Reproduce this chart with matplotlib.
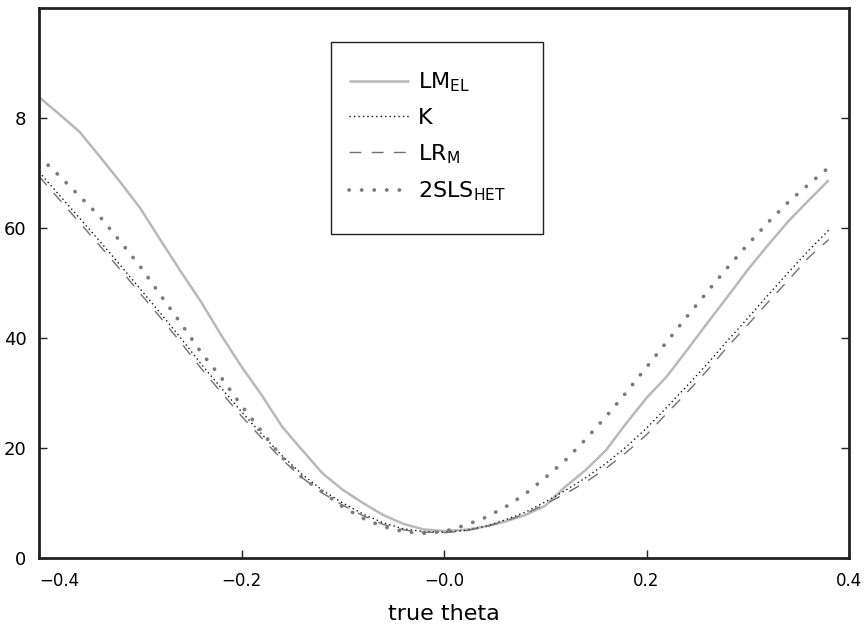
import matplotlib
matplotlib.use("Agg")
import matplotlib.pyplot as plt
from matplotlib.patches import Rectangle

theta = [-0.40, -0.38, -0.36, -0.34, -0.32, -0.30, -0.28, -0.26, -0.24, -0.22,
         -0.20, -0.18, -0.16, -0.14, -0.12, -0.10, -0.08, -0.06, -0.04, -0.02,
         0.00, 0.02, 0.04, 0.06, 0.08, 0.10, 0.12, 0.14, 0.16, 0.18,
         0.20, 0.22, 0.24, 0.26, 0.28, 0.30, 0.32, 0.34, 0.36, 0.38]

lm_el = [83.8, 80.7, 77.5, 73.0, 68.4, 63.6, 57.8, 52.1, 46.6, 40.5,
         34.8, 29.6, 23.9, 19.6, 15.4, 12.4, 10.0, 7.8, 6.2, 5.2,
         4.9, 5.1, 5.7, 6.6, 7.8, 9.5, 13.0, 16.0, 19.6, 24.5,
         29.1, 33.0, 37.8, 42.7, 47.5, 52.4, 56.9, 61.2, 65.0, 68.7]

k_stat = [70.2, 66.0, 61.8, 57.6, 53.3, 48.9, 44.5, 40.0, 35.3, 30.9,
          26.6, 22.5, 18.6, 15.2, 12.3, 10.0, 8.0, 6.4, 5.3, 4.8,
          4.7, 5.0, 5.7, 6.9, 8.3, 10.2, 12.3, 14.6, 17.2, 20.2,
          23.6, 27.4, 31.3, 35.3, 39.5, 43.6, 47.8, 51.9, 55.9, 59.6]

lr_m = [69.4, 65.2, 61.0, 56.8, 52.5, 48.1, 43.7, 39.2, 34.5, 30.1,
        25.8, 21.8, 17.9, 14.6, 11.8, 9.6, 7.7, 6.1, 5.1, 4.7,
        4.6, 4.9, 5.6, 6.7, 8.0, 9.8, 11.7, 13.8, 16.3, 19.2,
        22.4, 26.3, 30.1, 34.1, 38.4, 42.4, 46.5, 50.5, 54.6, 57.9]

tsls_het = [73.0, 69.5, 65.8, 62.1, 57.6, 53.0, 47.8, 42.7, 37.4, 32.8,
            27.7, 23.0, 18.3, 14.6, 12.0, 9.3, 7.2, 5.7, 4.8, 4.5,
            4.8, 5.9, 7.3, 9.2, 11.6, 14.6, 17.8, 21.6, 25.7, 30.1,
            34.7, 39.3, 43.9, 48.4, 52.8, 57.0, 61.0, 64.7, 67.9, 71.0]

labels = [r'LM$_{\mathregular{EL}}$', 'K', r'LR$_{\mathregular{M}}$', r'2SLS$_{\mathregular{HET}}$']

xticks = [-0.4, -0.2, 0.0, 0.2, 0.4]
xticklabels = ['\u22120.4', '\u22120.2', '\u22120.0', '0.2', '0.4']
yticks = [0, 20, 40, 60, 80]
yticklabels = ['0', '20', '40', '60', '8']

plt.rcParams['font.family'] = ['DejaVu Sans']
plt.rcParams['mathtext.default'] = 'regular'

W, H = 868, 631
fig = plt.figure(figsize=(W/100, H/100), dpi=100)
ax = fig.add_axes([39/W, 1-558/H, 810/W, 550/H])

ax.plot(theta, lm_el, color='#b9b9b9', lw=1.8, solid_capstyle='butt', label=labels[0])
ax.plot(theta, k_stat, color='#111111', lw=1.0, linestyle=(0, (1, 2.2)), label=labels[1])
ax.plot(theta, lr_m, color='#707070', lw=1.0, linestyle=(0, (8.5, 7.5)), label=labels[2])
ax.plot(theta, tsls_het, color='#7a7a7a', lw=2.7, linestyle=(0, (0.05, 3.3)),
        dash_capstyle='round', label=labels[3])

ax.set_xlim(-0.4, 0.4)
ax.set_ylim(0, 100)
ax.set_xticks(xticks)
ax.set_xticklabels(xticklabels, fontsize=12)
ax.set_yticks(yticks)
ax.set_yticklabels(yticklabels, fontsize=13)
ax.get_xticklabels()[0].set_horizontalalignment('left')

ax.tick_params(axis='both', direction='in', length=6, width=1, color='#222222')
ax.tick_params(axis='y', right=True, pad=9)
ax.tick_params(axis='x', pad=10)
for sp in ax.spines.values():
    sp.set_linewidth(2)
    sp.set_color('#222222')

ax.set_xlabel('true theta', fontsize=16, labelpad=10)

# legend content (frame drawn separately to match the reference box)
leg = ax.legend(loc='upper left', bbox_to_anchor=((331-39)/810, (558-53)/550),
                fontsize=16, frameon=False, handlelength=2.7,
                labelspacing=0.62, borderpad=0.8, handletextpad=0.4, borderaxespad=0)
box = Rectangle((331/W, 1-234/H), 212/W, 192/H, transform=fig.transFigure,
                facecolor='white', edgecolor='#222222', linewidth=1.0, zorder=4)
ax.add_patch(box)
box.set_clip_on(False)
leg.set_zorder(5)

fig.savefig('out.png', dpi=100)
